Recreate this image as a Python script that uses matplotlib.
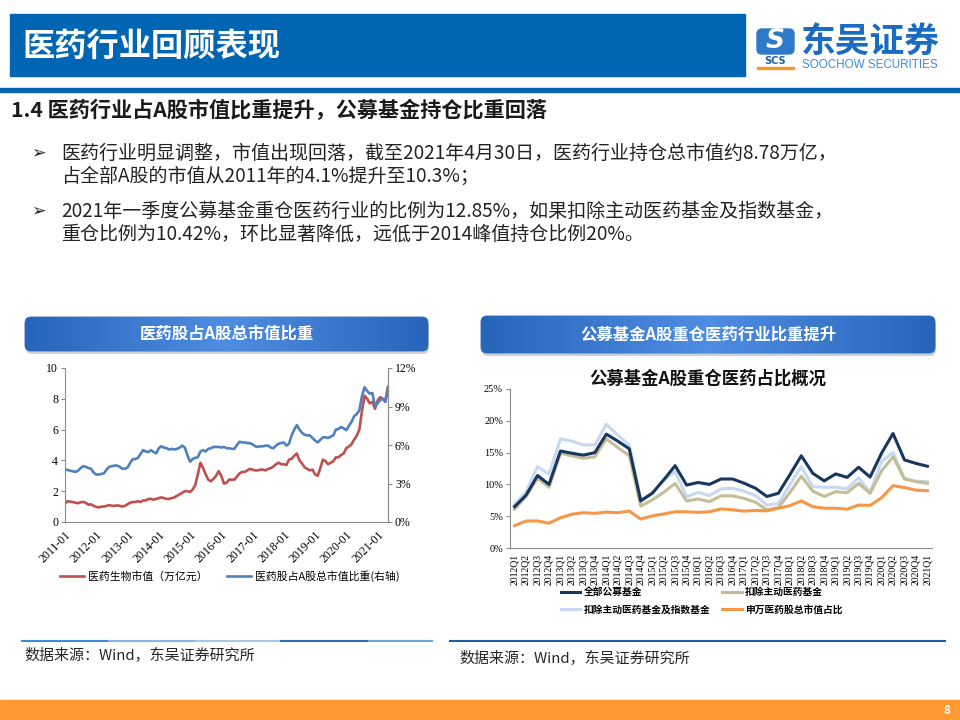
import numpy as np
import matplotlib
matplotlib.use("Agg")
import matplotlib.pyplot as plt
from matplotlib.patches import FancyBboxPatch, Rectangle
from matplotlib.colors import LinearSegmentedColormap

plt.rcParams['font.family'] = ['Noto Sans CJK SC', 'DejaVu Sans']
plt.rcParams['axes.unicode_minus'] = False

SERIF = 'Liberation Serif'

# ---- left chart: monthly, 2011-01 .. 2021-04 ----
# 医药生物市值（万亿元）
mkt_cap = [1.2, 1.35, 1.32, 1.3, 1.25, 1.22, 1.28, 1.3, 1.25, 1.12, 1.15, 1.05,
           0.98, 0.95, 1.0, 1.0, 1.05, 1.1, 1.05, 1.05, 1.08, 1.05, 1.0, 1.05,
           1.15, 1.25, 1.3, 1.3, 1.35, 1.3, 1.4, 1.4, 1.5, 1.5, 1.45, 1.5,
           1.55, 1.6, 1.55, 1.5, 1.5, 1.55, 1.6, 1.7, 1.8, 1.9, 2.0, 2.0,
           1.95, 2.1, 2.4, 3.1, 3.85, 3.5, 3.1, 2.75, 2.65, 2.8, 3.0, 3.3,
           3.0, 2.5, 2.55, 2.75, 2.75, 2.75, 2.95, 3.15, 3.25, 3.25, 3.35, 3.45,
           3.4, 3.35, 3.35, 3.4, 3.4, 3.35, 3.45, 3.5, 3.6, 3.75, 3.85, 3.75,
           3.75, 3.7, 4.05, 4.1, 4.3, 4.45, 4.0, 3.8, 3.55, 3.45, 3.35, 3.4,
           3.1, 3.0, 3.5, 4.05, 3.95, 3.75, 3.85, 3.95, 4.2, 4.2, 4.35, 4.45,
           4.8, 4.9, 5.05, 5.35, 5.6, 6.0, 7.2, 8.2, 8.0, 7.7, 7.8, 7.35,
           7.9, 8.1, 8.0, 7.9, 8.78]
# 医药股占A股总市值比重（%，右轴）
mkt_share = [4.1, 4.05, 4.0, 3.95, 3.9, 4.0, 4.2, 4.35, 4.3, 4.2, 4.15, 3.85,
             3.7, 3.7, 3.75, 3.8, 4.1, 4.3, 4.35, 4.4, 4.4, 4.3, 4.15, 4.15,
             4.25, 4.6, 4.9, 4.9, 5.0, 5.3, 5.6, 5.5, 5.45, 5.6, 5.45, 5.35,
             5.75, 5.9, 5.8, 5.75, 5.65, 5.7, 5.65, 5.7, 5.8, 5.95, 5.8, 5.2,
             4.7, 4.9, 5.0, 5.05, 5.5, 5.6, 5.5, 5.7, 5.75, 5.85, 5.85, 5.85,
             5.8, 5.85, 5.75, 5.75, 5.7, 5.7, 6.0, 6.25, 6.2, 6.2, 6.15, 6.15,
             6.05, 5.9, 5.85, 5.9, 5.9, 5.95, 5.95, 5.8, 5.75, 5.95, 6.1, 6.15,
             6.2, 5.95, 6.1, 6.75, 7.2, 7.55, 7.2, 6.95, 6.8, 6.75, 6.75, 6.55,
             6.35, 6.2, 6.4, 6.6, 6.6, 6.55, 6.65, 6.75, 7.2, 7.25, 7.4, 7.3,
             7.15, 7.5, 7.8, 8.25, 8.4, 8.7, 9.8, 10.5, 10.2, 10.0, 10.05, 9.0,
             9.25, 9.5, 9.6, 9.35, 10.4]
year_labels = ["2011-01", "2012-01", "2013-01", "2014-01", "2015-01", "2016-01",
               "2017-01", "2018-01", "2019-01", "2020-01", "2021-01"]
left_ticks = [0, 2, 4, 6, 8, 10]
right_ticks = [0, 3, 6, 9, 12]

# ---- right chart: quarterly, 2012Q1 .. 2021Q1 (%) ----
quarters = [f"{y}Q{q}" for y in range(2012, 2022) for q in range(1, 5)][:37]
all_funds = [6.5, 8.3, 11.4, 10.0, 15.25, 14.9, 14.6, 15.0, 17.9, 16.8, 15.6, 7.4,
             8.6, 10.7, 12.95, 9.9, 10.3, 10.0, 10.85, 10.85, 10.2, 9.4, 8.1, 8.6,
             11.5, 14.5, 11.75, 10.55, 11.65, 11.1, 12.7, 11.15, 14.9, 18.0, 13.85, 13.3,
             12.85]
ex_active = [6.1, 8.1, 10.95, 9.55, 14.9, 14.5, 14.1, 14.35, 17.15, 15.8, 14.5, 6.6,
             7.55, 8.75, 10.15, 7.4, 7.7, 7.3, 8.2, 8.2, 7.8, 7.2, 6.0, 6.35,
             8.7, 11.3, 8.95, 8.1, 8.85, 8.7, 10.15, 8.6, 12.1, 14.35, 10.85, 10.45,
             10.15]
ex_active_index = [6.85, 8.85, 12.8, 11.6, 17.15, 16.8, 16.2, 16.2, 19.45, 17.75, 16.2, 7.65,
                   8.6, 10.7, 12.0, 8.05, 8.75, 8.25, 9.3, 9.4, 8.95, 8.25, 6.75, 7.0,
                   9.9, 12.8, 9.65, 9.55, 9.55, 9.3, 11.05, 8.75, 13.6, 15.05, 10.95, 10.5,
                   10.42]
sw_share = [3.5, 4.25, 4.25, 3.9, 4.75, 5.3, 5.55, 5.45, 5.65, 5.55, 5.8, 4.55,
            5.05, 5.35, 5.7, 5.7, 5.6, 5.7, 6.15, 6.0, 5.8, 5.9, 5.85, 6.25,
            6.65, 7.4, 6.5, 6.25, 6.25, 6.1, 6.75, 6.7, 7.9, 9.8, 9.5, 9.1,
            9.0]
pct_ticks = [0, 5, 10, 15, 20, 25]

W, H = 960, 720
fig = plt.figure(figsize=(9.6, 7.2), dpi=100)


def box(x0, y0, x1, y1):
    # pixel box (top-left origin) -> figure fraction rect
    return [x0 / W, 1 - y1 / H, (x1 - x0) / W, (y1 - y0) / H]


bg = fig.add_axes([0, 0, 1, 1])
bg.set_xlim(0, W)
bg.set_ylim(H, 0)
bg.axis('off')

# title bar + logo
bg.add_patch(Rectangle((10, 14), 735, 62, color='#0066B3'))
bg.text(22, 46, "医药行业回顾表现", color='white', fontsize=23.2, weight='bold', va='center')
bg.add_patch(Rectangle((0, 88), W, 4, color='#0066B3'))

bg.add_patch(FancyBboxPatch((757, 29), 37, 25, boxstyle="round,pad=0,rounding_size=5",
                            color='#2F7AC8'))
bg.text(775.5, 41.5, "S", color='white', fontsize=19, weight='bold', style='italic',
        ha='center', va='center', family='DejaVu Sans')
bg.text(775.5, 61, "SCS", color='#1F5FA8', fontsize=7, weight='bold',
        ha='center', va='center', family='DejaVu Sans')
bg.add_patch(Rectangle((757, 66.5), 37, 2.2, color='#F39A2B'))
bg.text(801, 41, "东吴证券", color='#1A6BC2', fontsize=25, weight='bold', va='center')
bg.text(802, 65, "SOOCHOW SECURITIES", color='#3A8FD8', fontsize=8.4,
        va='center', family='Liberation Sans')

# heading and bullets
bg.text(11, 110, "1.4 医药行业占A股市值比重提升，公募基金持仓比重回落",
        fontsize=15.2, weight='bold', color='#1a1a1a', va='center')
bullet_lines = [
    ("➢", "医药行业明显调整，市值出现回落，截至2021年4月30日，医药行业持仓总市值约8.78万亿，", 153),
    ("", "占全部A股的市值从2011年的4.1%提升至10.3%；", 176),
    ("➢", "2021年一季度公募基金重仓医药行业的比例为12.85%，如果扣除主动医药基金及指数基金，", 211),
    ("", "重仓比例为10.42%，环比显著降低，远低于2014峰值持仓比例20%。", 234),
]
for mark, line, y in bullet_lines:
    if mark:
        bg.text(31, y, mark, fontsize=12.5, color='#222222', va='center', family='DejaVu Sans')
    bg.text(61, y, line, fontsize=13.7, color='#222222', va='center')

# chart header boxes
grad = 1 - np.abs(np.linspace(-1, 1, 256))[None, :]
hdr_cmap = LinearSegmentedColormap.from_list('hdr', ['#2765BB', '#4E8DE2'])
for (x0, y0, x1, y1, label) in [(25, 317, 428, 351, "医药股占A股总市值比重"),
                                 (481, 316, 935, 353, "公募基金A股重仓医药行业比重提升")]:
    shadow = FancyBboxPatch((x0 + 1, y0 + 3), x1 - x0, y1 - y0,
                            boxstyle="round,pad=0,rounding_size=6",
                            color='#9a9a9a', alpha=0.45, lw=0)
    bg.add_patch(shadow)
    patch = FancyBboxPatch((x0, y0), x1 - x0, y1 - y0,
                           boxstyle="round,pad=0,rounding_size=6",
                           facecolor='none', edgecolor='#2A64B0', lw=0.6)
    bg.add_patch(patch)
    im = bg.imshow(grad, cmap=hdr_cmap, aspect='auto', extent=(x0, x1, y1, y0), zorder=1)
    im.set_clip_path(patch)
    bg.text((x0 + x1) / 2, (y0 + y1) / 2, label, color='white', fontsize=11.8,
            weight='bold', ha='center', va='center', zorder=3)

bg.set_xlim(0, W)
bg.set_ylim(H, 0)

# right chart title
bg.text(708, 379, "公募基金A股重仓医药占比概况", fontsize=12.5, weight='bold',
        ha='center', va='center', color='#111111')

# bottom rules, sources, footer
for (xa, xb, c) in [(21, 108, '#3C8DD6'), (108, 195, '#8BB6E0'), (195, 280, '#A9C8E8'),
                    (280, 368, '#2E6DB4'), (368, 433, '#6FA3DC')]:
    bg.plot([xa, xb], [641, 641], color=c, lw=1.5, solid_capstyle='butt')
bg.plot([450, 945], [641, 641], color='#1F5FA8', lw=1.5)
bg.text(24, 655, "数据来源：Wind，东吴证券研究所", fontsize=10.8, color='#262626', va='center')
bg.text(459, 658, "数据来源：Wind，东吴证券研究所", fontsize=10.8, color='#262626', va='center')
bg.add_patch(Rectangle((0, 700), W, 20, color='#FF9933'))
bg.text(947, 710, "8", color='white', fontsize=8.5, weight='bold', ha='center', va='center')

# ---- left chart ----
grey = '#8c8c8c'
ax = fig.add_axes(box(65, 368, 388, 522))
ax2 = ax.twinx()
months = np.arange(len(mkt_cap))
l1, = ax.plot(months, mkt_cap, color='#C0504D', lw=1.9, label="医药生物市值（万亿元）")
l2, = ax2.plot(months, mkt_share, color='#4F81BD', lw=1.9, label="医药股占A股总市值比重(右轴)")
ax.set_xlim(0, len(mkt_cap) - 1)
ax.set_ylim(0, 10)
ax2.set_ylim(0, 12)
ax.set_yticks(left_ticks)
ax.set_yticklabels([str(v) for v in left_ticks], fontsize=8.5, family=SERIF)
ax2.set_yticks(right_ticks)
ax2.set_yticklabels([f"{v}%" for v in right_ticks], fontsize=8.5, family=SERIF)
ax.set_xticks(np.arange(0, len(mkt_cap), 12))
ax.set_xticklabels(year_labels, rotation=45, ha='right', rotation_mode='anchor',
                   fontsize=8.5, family=SERIF)
ax.tick_params(axis='x', length=0, pad=5)
ax.tick_params(axis='y', length=3, color=grey, pad=2)
ax2.tick_params(axis='y', length=3, color=grey, pad=2)
for a in (ax, ax2):
    for s in a.spines.values():
        s.set_color(grey)
        s.set_linewidth(0.8)
    a.spines['top'].set_visible(False)
ax2.spines['left'].set_visible(False)
ax2.spines['bottom'].set_visible(False)
ax.legend(handles=[l1, l2], loc='center left', bbox_to_anchor=(60 / W, 1 - 576 / H),
          bbox_transform=fig.transFigure, ncol=2, frameon=False, fontsize=7.8,
          handlelength=2.2, handletextpad=0.4, columnspacing=1.8,
          borderpad=0, borderaxespad=0)

# ---- right chart ----
axr = fig.add_axes(box(510, 389, 932, 548))
xq = np.arange(len(quarters))
r3, = axr.plot(xq, ex_active_index, color='#C6D9F1', lw=2.2, label="扣除主动医药基金及指数基金")
r2, = axr.plot(xq, ex_active, color='#C4BD97', lw=2.2, label="扣除主动医药基金")
r4, = axr.plot(xq, sw_share, color='#F79646', lw=2.2, label="申万医药股总市值占比")
r1, = axr.plot(xq, all_funds, color='#17375E', lw=2.2, label="全部公募基金")
axr.set_xlim(-0.4, len(quarters) - 0.6)
axr.set_ylim(0, 25)
axr.set_yticks(pct_ticks)
axr.set_yticklabels([f"{v}%" for v in pct_ticks], fontsize=7.5, family=SERIF)
axr.set_xticks(xq)
axr.set_xticklabels(quarters, rotation=90, fontsize=7, family=SERIF)
axr.tick_params(axis='x', length=0, pad=4)
axr.tick_params(axis='y', length=3, color=grey, pad=2)
for s in axr.spines.values():
    s.set_color(grey)
    s.set_linewidth(0.8)
axr.spines['top'].set_visible(False)
axr.spines['right'].set_visible(False)
for lw_line in (r1, r2, r3, r4):
    lw_line.set_solid_joinstyle('round')
axr.legend(handles=[r1, r3, r2, r4], loc='upper left', bbox_to_anchor=(561 / W, 1 - 587 / H),
           bbox_transform=fig.transFigure, ncol=2, frameon=False,
           prop={'size': 7, 'weight': 'bold'},
           handlelength=2.0, handletextpad=0.35, columnspacing=1.2, labelspacing=0.75,
           borderpad=0, borderaxespad=0)

fig.savefig("out.png", dpi=100)
